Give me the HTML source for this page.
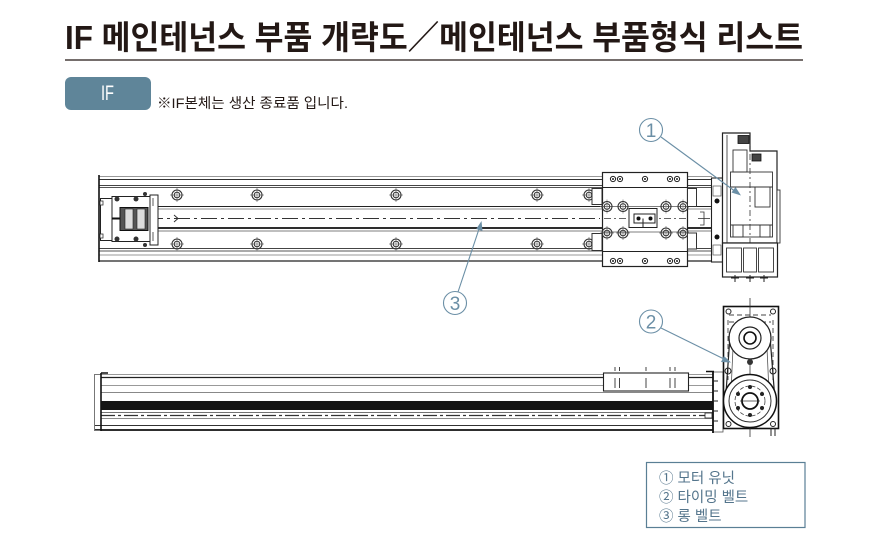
<!DOCTYPE html>
<html><head><meta charset="utf-8">
<style>
html,body{margin:0;padding:0;background:#fff;}
body{width:870px;height:541px;overflow:hidden;}
svg{display:block;}
</style></head>
<body>
<svg width="870" height="541" viewBox="0 0 870 541" xmlns="http://www.w3.org/2000/svg">
<defs>
 <g id="bolt">
  <line x1="-7" y1="0" x2="7" y2="0" stroke="#777" stroke-width="0.7"/>
  <line x1="0" y1="-7" x2="0" y2="7" stroke="#777" stroke-width="0.7"/>
  <circle r="5" fill="none" stroke="#333" stroke-width="1.1"/>
  <circle r="2.8" fill="none" stroke="#333" stroke-width="1"/>
 </g>
 <g id="sb"><circle r="2.6" fill="#fff" stroke="#222" stroke-width="1"/><circle r="1" fill="#222"/></g>
</defs>

<!-- Title -->
<text x="65" y="49" textLength="738" lengthAdjust="spacingAndGlyphs" font-family="'Liberation Sans','Noto Sans CJK KR',sans-serif" font-weight="bold" font-size="33" fill="#231815">IF 메인테넌스 부품 개략도／메인테넌스 부품형식 리스트</text>
<line x1="65" y1="60" x2="803" y2="60" stroke="#231815" stroke-width="1.3"/>

<!-- IF tag -->
<rect x="65" y="77" width="86" height="33" rx="6" fill="#5f8599"/>
<text x="101" y="100" textLength="13" lengthAdjust="spacingAndGlyphs" font-family="'Liberation Sans',sans-serif" font-size="21" fill="#fff">IF</text>
<text x="157" y="108" textLength="191" lengthAdjust="spacingAndGlyphs" font-family="'Liberation Sans','Noto Sans CJK KR',sans-serif" font-size="14" fill="#231815">※IF본체는 생산 종료품 입니다.</text>

<!-- ================= TOP VIEW ================= -->
<g fill="none">
 <line x1="99" y1="176.5" x2="712" y2="176.5" stroke="#999" stroke-width="1"/>
 <line x1="99" y1="179.5" x2="712" y2="179.5" stroke="#333" stroke-width="1"/>
 <line x1="99" y1="185.5" x2="712" y2="185.5" stroke="#444" stroke-width="1"/>
 <line x1="99" y1="187.5" x2="712" y2="187.5" stroke="#555" stroke-width="1"/>
 <line x1="158" y1="206.5" x2="712" y2="206.5" stroke="#222" stroke-width="1.1"/>
 <line x1="158" y1="209" x2="712" y2="209" stroke="#666" stroke-width="0.8"/>
 <line x1="120" y1="218.5" x2="600" y2="218.5" stroke="#333" stroke-width="1" stroke-dasharray="16 4 3 4"/>
 <line x1="158" y1="228" x2="712" y2="228" stroke="#111" stroke-width="1.8"/>
 <line x1="158" y1="231" x2="712" y2="231" stroke="#555" stroke-width="0.8"/>
 <line x1="99" y1="248.5" x2="712" y2="248.5" stroke="#444" stroke-width="1"/>
 <line x1="99" y1="251" x2="712" y2="251" stroke="#555" stroke-width="1"/>
 <line x1="99" y1="255" x2="712" y2="255" stroke="#999" stroke-width="1"/>
 <line x1="99" y1="261" x2="712" y2="261" stroke="#222" stroke-width="1.2"/>
 <line x1="99" y1="175" x2="99" y2="262" stroke="#111" stroke-width="1.6"/>
</g>
<!-- bolts -->
<use href="#bolt" x="177" y="195"/><use href="#bolt" x="257" y="195"/><use href="#bolt" x="396" y="195"/><use href="#bolt" x="537" y="195"/><use href="#bolt" x="589" y="195"/>
<use href="#bolt" x="177" y="244"/><use href="#bolt" x="257" y="244"/><use href="#bolt" x="396" y="244"/><use href="#bolt" x="537" y="244"/><use href="#bolt" x="589" y="244"/>
<rect x="592" y="188.5" width="10" height="16" fill="#fff" stroke="#333" stroke-width="1"/>
<rect x="592" y="233.5" width="10" height="17" fill="#fff" stroke="#333" stroke-width="1"/>
<path d="M174 215 L178 218.5 L174 222" fill="none" stroke="#333" stroke-width="1"/>

<!-- left end block -->
<g fill="#fff" stroke="#222" stroke-width="1">
 <rect x="100.5" y="198.5" width="12" height="42"/>
 <rect x="112" y="196.5" width="38" height="45"/>
 <rect x="150" y="195" width="8" height="50"/>
 <line x1="158" y1="206.5" x2="158" y2="230.5"/>
</g>
<rect x="120" y="207.5" width="28" height="23" fill="#555" stroke="#111" stroke-width="1"/>
<rect x="125" y="209" width="8" height="20" fill="#ddd" stroke="#222" stroke-width="0.6"/>
<rect x="137" y="209" width="8" height="20" fill="#ddd" stroke="#222" stroke-width="0.6"/>
<line x1="112" y1="218.5" x2="120" y2="218.5" stroke="#111" stroke-width="2"/>
<g fill="#333"><circle cx="117" cy="199" r="2.5"/><circle cx="136" cy="199" r="2.5"/><circle cx="117" cy="239" r="2.5"/><circle cx="136" cy="239" r="2.5"/><circle cx="145" cy="194" r="2"/><circle cx="145" cy="245" r="2"/></g>
<g stroke="#333" stroke-width="0.8"><line x1="153" y1="198" x2="153" y2="206"/><line x1="153" y1="232" x2="153" y2="241"/></g>
<g fill="#fff" stroke="#333" stroke-width="0.8"><rect x="100" y="201" width="3" height="4"/><rect x="100" y="234" width="3" height="4"/></g>

<!-- carriage -->
<rect x="602.5" y="172.5" width="85" height="94" fill="#fff" stroke="#222" stroke-width="1.2"/>
<line x1="602.5" y1="187.5" x2="687.5" y2="187.5" stroke="#222" stroke-width="1"/>
<line x1="602.5" y1="251.5" x2="687.5" y2="251.5" stroke="#222" stroke-width="1"/>
<line x1="602.5" y1="206.5" x2="687.5" y2="206.5" stroke="#555" stroke-width="0.7"/>
<line x1="602.5" y1="232" x2="687.5" y2="232" stroke="#555" stroke-width="0.7"/>
<line x1="604" y1="218.5" x2="686" y2="218.5" stroke="#333" stroke-width="0.8" stroke-dasharray="7 3 2 3"/>
<use href="#sb" x="613" y="179"/><use href="#sb" x="620" y="179"/><use href="#sb" x="645" y="179"/><use href="#sb" x="670" y="179"/><use href="#sb" x="677" y="179"/>
<use href="#sb" x="613" y="261"/><use href="#sb" x="620" y="261"/><use href="#sb" x="645" y="261"/><use href="#sb" x="670" y="261"/><use href="#sb" x="677" y="261"/>
<use href="#bolt" x="607" y="206.5"/><use href="#bolt" x="623" y="206.5"/><use href="#bolt" x="666" y="206.5"/><use href="#bolt" x="683" y="206.5"/>
<use href="#bolt" x="607" y="233"/><use href="#bolt" x="623" y="233"/><use href="#bolt" x="666" y="233"/><use href="#bolt" x="683" y="233"/>
<rect x="629" y="208.5" width="28" height="19" fill="#fff" stroke="#222" stroke-width="1"/>
<rect x="634" y="214" width="21" height="9" fill="#fff" stroke="#222" stroke-width="1"/>
<circle cx="638.5" cy="218.5" r="2" fill="#111"/><circle cx="650.5" cy="218.5" r="2" fill="#111"/>
<line x1="643" y1="218.5" x2="643" y2="227.5" stroke="#222" stroke-width="1"/>

<!-- between carriage and end -->
<g fill="#fff" stroke="#333" stroke-width="1">
 <rect x="687.5" y="188.5" width="9" height="18"/>
 <rect x="687.5" y="233" width="9" height="16"/>
</g>
<g stroke="#333" stroke-width="0.8" fill="none"><path d="M700 212 h4 v13 h-4"/><line x1="698" y1="218.5" x2="710" y2="218.5"/></g>
<!-- end block -->
<rect x="711.5" y="178" width="11" height="84" fill="#fff" stroke="#222" stroke-width="1.1"/>
<circle cx="717" cy="201" r="2.5" fill="#111"/><circle cx="717" cy="237" r="2.5" fill="#111"/>
<rect x="713" y="186" width="8" height="10" fill="none" stroke="#555" stroke-width="0.7"/>
<rect x="713" y="245" width="8" height="10" fill="none" stroke="#555" stroke-width="0.7"/>

<!-- motor unit top -->
<path d="M722.5 133 H750 V151 H777 V243 H722.5 Z" fill="#fff" stroke="#222" stroke-width="1.2"/>
<line x1="727" y1="135" x2="727" y2="243" stroke="#444" stroke-width="0.9"/>
<rect x="777" y="190" width="3" height="53" fill="#fff" stroke="#333" stroke-width="0.9"/>
<rect x="738" y="135.5" width="11" height="8" fill="#444" stroke="#111" stroke-width="0.8"/>
<rect x="752" y="154" width="9" height="7" fill="#444" stroke="#111" stroke-width="0.8"/>
<g fill="none" stroke="#333" stroke-width="0.9">
 <rect x="730.5" y="172" width="42" height="65"/>
 <line x1="730.5" y1="187" x2="772.5" y2="187"/>
 <line x1="730.5" y1="225" x2="772.5" y2="225"/>
 <rect x="733" y="150" width="14" height="22"/>
 <rect x="755" y="187" width="15" height="20"/>
 <rect x="733" y="225" width="10" height="12"/>
 <rect x="760" y="225" width="10" height="12"/>
</g>
<line x1="750" y1="140" x2="750" y2="246" stroke="#333" stroke-width="0.8" stroke-dasharray="6 3 2 3"/>
<rect x="722.5" y="243" width="55" height="34" fill="#fff" stroke="#222" stroke-width="1.2"/>
<g fill="#fff" stroke="#333" stroke-width="0.9">
 <rect x="726.5" y="248" width="15" height="24"/>
 <rect x="743.5" y="248" width="13" height="24"/>
 <rect x="758.5" y="248" width="15" height="24"/>
</g>
<g stroke="#222" stroke-width="1"><line x1="735" y1="275" x2="735" y2="282"/><line x1="731" y1="278" x2="739" y2="278"/><line x1="750" y1="275" x2="750" y2="282"/><line x1="746" y1="278" x2="754" y2="278"/><line x1="764" y1="275" x2="764" y2="282"/><line x1="760" y1="278" x2="768" y2="278"/></g>

<!-- ================= SIDE VIEW ================= -->
<g fill="none">
 <line x1="94" y1="374.5" x2="713" y2="374.5" stroke="#999" stroke-width="1"/>
 <line x1="101" y1="377.5" x2="713" y2="377.5" stroke="#222" stroke-width="1.2"/>
 <line x1="101" y1="385.5" x2="713" y2="385.5" stroke="#777" stroke-width="0.8"/>
 <line x1="101" y1="392.5" x2="713" y2="392.5" stroke="#888" stroke-width="1"/>
 <line x1="101" y1="412.5" x2="713" y2="412.5" stroke="#444" stroke-width="0.8"/>
 <line x1="101" y1="415.5" x2="710" y2="415.5" stroke="#333" stroke-width="1.2" stroke-dasharray="14 3 3 3"/>
 <line x1="101" y1="418.5" x2="713" y2="418.5" stroke="#666" stroke-width="0.8"/>
 <line x1="94" y1="425.5" x2="713" y2="425.5" stroke="#333" stroke-width="1"/>
 <line x1="94" y1="430" x2="713" y2="430" stroke="#111" stroke-width="1.8"/>
</g>
<rect x="101" y="401" width="612" height="9" fill="#151515"/>
<rect x="94.5" y="374.5" width="6.5" height="56" fill="none" stroke="#777" stroke-width="1"/>
<line x1="101" y1="373" x2="101" y2="431" stroke="#111" stroke-width="1.6"/>
<line x1="101" y1="373" x2="108" y2="373" stroke="#111" stroke-width="1.5"/>
<!-- slider -->
<rect x="603.5" y="373" width="85" height="18" fill="#fff" stroke="#222" stroke-width="1.1"/>
<g stroke="#444" stroke-width="1">
 <line x1="615" y1="378" x2="615" y2="388"/><line x1="619.5" y1="378" x2="619.5" y2="388"/>
 <line x1="646" y1="378" x2="646" y2="388"/>
 <line x1="670" y1="378" x2="670" y2="388"/><line x1="675" y1="378" x2="675" y2="388"/>
 <line x1="615" y1="367" x2="615" y2="371"/><line x1="619.5" y1="367" x2="619.5" y2="371"/>
 <line x1="646" y1="367" x2="646" y2="371"/>
 <line x1="670" y1="367" x2="670" y2="371"/><line x1="675" y1="367" x2="675" y2="371"/>
</g>
<!-- right end -->
<rect x="713" y="372" width="10" height="60" fill="#fff" stroke="#555" stroke-width="0.8"/>
<line x1="713" y1="371" x2="713" y2="433" stroke="#111" stroke-width="1.8"/>
<g stroke="#222" stroke-width="1"><line x1="713" y1="381" x2="718" y2="381"/><line x1="713" y1="391" x2="718" y2="391"/><line x1="713" y1="401" x2="718" y2="401"/><line x1="713" y1="411" x2="718" y2="411"/><line x1="713" y1="421" x2="718" y2="421"/></g>
<rect x="705" y="413" width="7" height="5" fill="#fff" stroke="#222" stroke-width="0.8"/>
<line x1="706" y1="371.5" x2="714" y2="371.5" stroke="#111" stroke-width="1.5"/>

<!-- motor side -->
<rect x="723.5" y="306.5" width="55" height="122" fill="#fff" stroke="#111" stroke-width="1.6"/>
<line x1="750" y1="298" x2="750" y2="437" stroke="#333" stroke-width="0.8"/>
<g fill="none" stroke="#444" stroke-width="0.9" stroke-dasharray="5 3">
 <line x1="729" y1="315" x2="771" y2="315"/>
 <line x1="729" y1="322" x2="771" y2="322"/>
 <line x1="728" y1="320" x2="728" y2="380"/>
 <line x1="773" y1="320" x2="773" y2="380"/>
 <circle cx="750" cy="338" r="15"/>
</g>
<path d="M729.5 343 L725.5 400 M770.5 343 L775 400" stroke="#222" stroke-width="1.2" fill="none"/>
<path d="M733 348 L731 392 M767 348 L769 392" stroke="#555" stroke-width="0.8" fill="none"/>
<circle cx="750" cy="338" r="21" fill="#fff" stroke="#222" stroke-width="1.3"/>
<circle cx="750" cy="338" r="11" fill="none" stroke="#222" stroke-width="1.2"/>
<circle cx="750" cy="338" r="6" fill="none" stroke="#111" stroke-width="1.6"/>
<circle cx="750" cy="362" r="3" fill="#333"/>
<circle cx="750" cy="401" r="26.5" fill="#fff" stroke="#111" stroke-width="1.5"/>
<circle cx="750" cy="401" r="21" fill="none" stroke="#333" stroke-width="1"/>
<circle cx="750" cy="401" r="15" fill="none" stroke="#444" stroke-width="0.8" stroke-dasharray="4 2"/>
<circle cx="750" cy="401" r="8" fill="none" stroke="#111" stroke-width="1.8"/>
<g fill="#222"><circle cx="750" cy="387" r="2"/><circle cx="762" cy="394" r="2"/><circle cx="762" cy="408" r="2"/><circle cx="750" cy="415" r="2"/><circle cx="738" cy="408" r="2"/><circle cx="738" cy="394" r="2"/></g>
<line x1="740" y1="401" x2="760" y2="401" stroke="#333" stroke-width="0.8"/>
<g fill="none" stroke="#222" stroke-width="1"><circle cx="728.5" cy="311.5" r="2.5"/><circle cx="773" cy="311.5" r="2.5"/><circle cx="728.5" cy="424" r="2.5"/><circle cx="773" cy="424" r="2.5"/><circle cx="728" cy="371" r="3"/><circle cx="773" cy="371" r="3"/></g>
<g stroke="#222" stroke-width="1"><line x1="771" y1="428" x2="771" y2="436"/><line x1="775" y1="428" x2="775" y2="436"/></g>

<!-- ================= CALLOUTS ================= -->
<g stroke="#6b8fa6" stroke-width="1.1" fill="none">
 <circle cx="651" cy="130" r="11.5"/>
 <circle cx="651" cy="321.5" r="11.5"/>
 <circle cx="455" cy="303" r="11.5"/>
 <line x1="661" y1="137" x2="736" y2="192"/>
 <line x1="661" y1="328" x2="726" y2="360"/>
 <line x1="458" y1="292" x2="480" y2="226"/>
</g>
<g fill="#6b8fa6">
 <path d="M741 195.5 L731.5 192.5 L735.5 187 Z"/>
 <path d="M731 362.5 L721 362 L724 356 Z"/>
 <path d="M481.5 221 L482.5 231 L476.2 229 Z"/>
</g>
<g font-family="'Liberation Sans',sans-serif" font-size="19" fill="#6b8fa6" text-anchor="middle">
 <text x="651" y="137">1</text>
 <text x="651" y="328.5">2</text>
 <text x="455" y="310">3</text>
</g>

<!-- legend -->
<rect x="646.5" y="462.5" width="158.5" height="65" fill="#fff" stroke="#5a7f95" stroke-width="1.2"/>
<g font-family="'Liberation Sans','Noto Sans CJK KR',sans-serif" font-size="14.5" fill="#54758c">
 <text x="659" y="483">① 모터 유닛</text>
 <text x="659" y="502">② 타이밍 벨트</text>
 <text x="659" y="521">③ 롱 벨트</text>
</g>
</svg>
</body></html>
